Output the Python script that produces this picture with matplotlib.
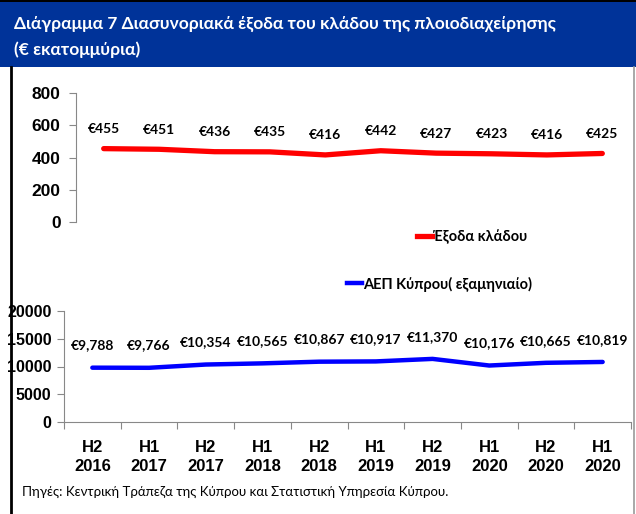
import matplotlib
matplotlib.use("Agg")
import matplotlib.pyplot as plt
from matplotlib.lines import Line2D
from matplotlib.patches import Rectangle

categories = ["H2\n2016", "H1\n2017", "H2\n2017", "H1\n2018", "H2\n2018",
              "H1\n2019", "H2\n2019", "H1\n2020", "H2\n2020", "H1\n2020"]
expenses = [455, 451, 436, 435, 416, 442, 427, 423, 416, 425]
gdp = [9788, 9766, 10354, 10565, 10867, 10917, 11370, 10176, 10665, 10819]
top_ticks = [0, 200, 400, 600, 800]
bottom_ticks = [0, 5000, 10000, 15000, 20000]
title_text = "Διάγραμμα 7 Διασυνοριακά έξοδα του κλάδου της πλοιοδιαχείρησης\n(€ εκατομμύρια)"
source_text = "Πηγές: Κεντρική Τράπεζα της Κύπρου και Στατιστική Υπηρεσία Κύπρου."
label_exp = "Έξοδα κλάδου"
label_gdp = "ΑΕΠ Κύπρου( εξαμηνιαίο)"

NARROW = ["Liberation Sans", "DejaVu Sans"]
LABEL = ["Lato", "DejaVu Sans"]
RED = "#ff0000"
BLUE = "#0000ff"
SPINE = "#888888"

W, H = 636, 514
fig = plt.figure(figsize=(W / 100, H / 100), dpi=100)

# banner and frame
fig.patches.append(Rectangle((0, 1 - 67 / H), 1, 65 / H, transform=fig.transFigure,
                             facecolor="#003399", edgecolor="none", zorder=0))
fig.patches.append(Rectangle((0, 1 - 2 / H), 1, 2 / H, transform=fig.transFigure,
                             facecolor="black", edgecolor="none", zorder=0))
fig.lines.append(Line2D([11 / W, 11 / W], [0, 1 - 67 / H], transform=fig.transFigure,
                        color="black", lw=2))
fig.lines.append(Line2D([634 / W, 634 / W], [0, 1 - 67 / H], transform=fig.transFigure,
                        color="#999999", lw=1.2))
fig.text(14 / W, 1 - 37 / H, title_text, color="white", fontsize=12.5,
         fontweight="bold", family=LABEL, va="center", ha="left", linespacing=1.7)

x = list(range(len(categories)))

def style_ticks(labels, size):
    for lab in labels:
        lab.set_fontfamily(NARROW)
        lab.set_fontweight("bold")
        lab.set_fontsize(size)

# top axes
ax1 = fig.add_axes([76 / W, 1 - 222 / H, 554 / W, 129 / H])
ax1.plot(x, expenses, color=RED, lw=3.8, solid_capstyle="round")
ax1.set_xlim(-0.5, len(categories) - 0.5)
ax1.set_ylim(0, 800)
ax1.set_yticks(top_ticks)
ax1.set_xticks([])
for s in ["top", "right", "bottom"]:
    ax1.spines[s].set_visible(False)
ax1.spines["left"].set_color(SPINE)
ax1.tick_params(axis="y", color=SPINE, length=5, pad=6)
style_ticks(ax1.get_yticklabels(), 12.5)
for xi, v in zip(x, expenses):
    ax1.annotate(f"€{v:,}", (xi, v), xytext=(0, 14), textcoords="offset points",
                 ha="center", va="center", fontsize=10, family=LABEL,
                 fontweight="bold")

# bottom axes
ax2 = fig.add_axes([64 / W, 1 - 422 / H, 567 / W, 111 / H])
ax2.plot(x, gdp, color=BLUE, lw=3.2, solid_capstyle="round")
ax2.set_xlim(-0.5, len(categories) - 0.5)
ax2.set_ylim(0, 20000)
ax2.set_yticks(bottom_ticks)
ax2.set_xticks([i - 0.5 for i in range(len(categories) + 1)], minor=False)
ax2.set_xticklabels([])
ax2.set_xticks(x, minor=True)
ax2.set_xticklabels(categories, minor=True)
ax2.tick_params(axis="x", which="minor", length=0, pad=13)
ax2.tick_params(axis="x", which="major", length=5, color=SPINE)
ax2.tick_params(axis="y", color=SPINE, length=5, pad=4)
for s in ["top", "right"]:
    ax2.spines[s].set_visible(False)
ax2.spines["left"].set_color(SPINE)
ax2.spines["bottom"].set_color(SPINE)
style_ticks(ax2.get_yticklabels(), 11.5)
style_ticks(ax2.get_xticklabels(minor=True), 12)
for lab in ax2.get_xticklabels(minor=True):
    lab.set_linespacing(1.3)
for xi, v in zip(x, gdp):
    ax2.annotate(f"€{v:,}", (xi, v), xytext=(0, 16), textcoords="offset points",
                 ha="center", va="center", fontsize=10, family=LABEL,
                 fontweight="bold")

# legends
h1 = Line2D([], [], color=RED, lw=3.8)
h2 = Line2D([], [], color=BLUE, lw=3.2)
fig.legend([h1], [label_exp], loc="center left", bbox_to_anchor=(410 / W, 1 - 237 / H),
           frameon=False, handlelength=1.0, handletextpad=0.1, borderpad=0,
           prop={"family": LABEL, "weight": "bold", "size": 10.5})
fig.legend([h2], [label_gdp], loc="center left", bbox_to_anchor=(340 / W, 1 - 284 / H),
           frameon=False, handlelength=1.0, handletextpad=0.1, borderpad=0,
           prop={"family": LABEL, "weight": "bold", "size": 10.5})

fig.text(22 / W, 1 - 492 / H, source_text, fontsize=9.5, family=LABEL,
         va="center", ha="left")

fig.savefig("out.png", dpi=100)
